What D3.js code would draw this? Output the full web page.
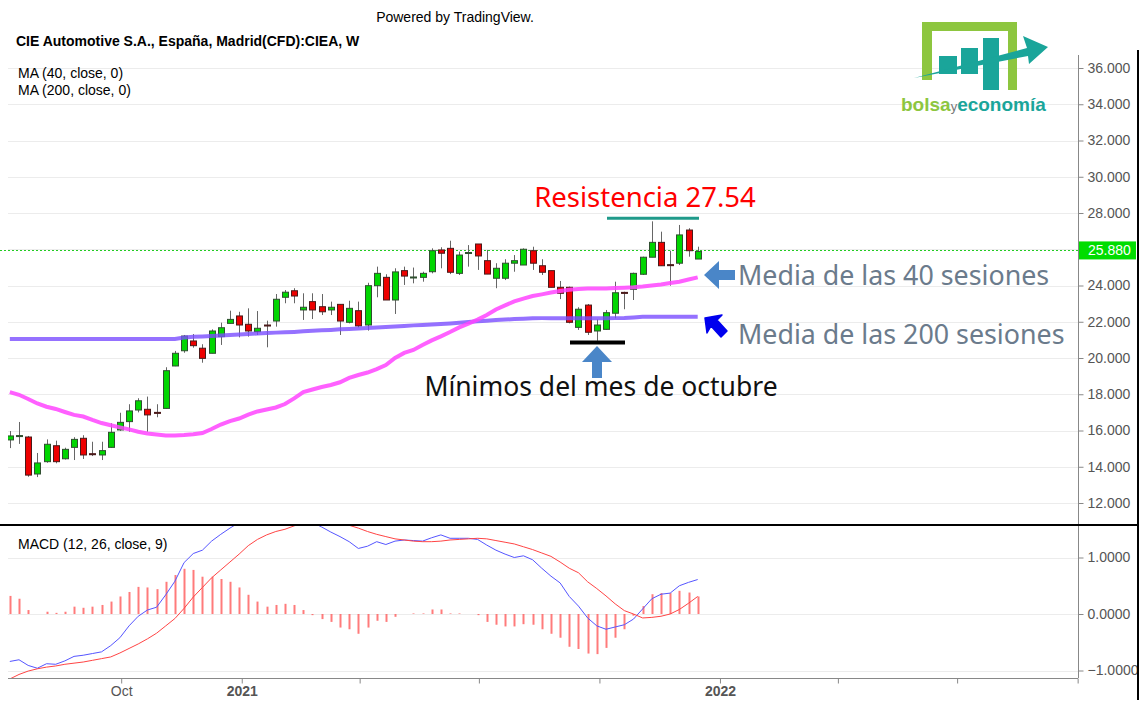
<!DOCTYPE html>
<meta charset="utf-8">
<style>
body { margin: 0; background: #fff; }
svg text { font-family: "Liberation Sans", Arial, sans-serif; }
.grid line { stroke: #ececec; stroke-width: 1; }
.axis text { fill: #555; font-size: 14px; }
.axis line { stroke: #888; }
.axis path { display: none; }
.note { font-family: "Noto Sans", "Open Sans", sans-serif; }
</style>
<body>
<svg width="1147" height="706"></svg>
<script src="https://d3js.org/d3.v7.min.js"></script>
<script>
// weekly candles, first bar week of 2020-07-08
var firstWeek = new Date(2020, 6, 8);

var opens  = [15.48,15.68,15.64,13.60,14.28,15.16,14.44,15.07,15.57,14.72,14.65,15.07,16.03,16.49,17.13,17.17,17.00,17.22,19.56,20.40,
              20.94,20.54,20.26,21.18,21.91,22.32,21.86,21.45,21.82,22.04,23.35,23.71,22.65,23.11,22.83,22.65,22.96,21.97,22.61,21.82,
              23.99,24.45,23.20,24.82,24.45,24.45,24.76,25.96,26.05,24.67,25.80,26.29,25.37,24.40,24.40,25.23,25.13,25.92,25.09,24.82,
              23.90,23.90,21.69,22.92,21.49,21.58,22.47,23.62,23.79,24.62,25.56,26.38,25.15,25.23,27.06,25.46];
var highs  = [15.97,16.47,15.70,14.76,15.51,15.44,15.05,15.63,15.74,15.38,15.38,16.40,16.98,17.45,17.78,17.87,17.45,19.49,20.39,21.27,
              21.32,20.76,21.58,21.95,22.61,22.55,22.74,22.59,22.06,23.53,23.75,23.85,23.57,23.57,23.53,23.11,22.96,23.16,23.11,24.15,
              25.04,24.62,24.95,25.04,24.99,24.76,26.05,26.11,26.47,25.87,26.23,26.29,25.96,25.23,25.45,25.68,26.05,26.14,25.45,24.82,
              24.25,23.94,22.80,22.98,22.13,22.65,24.21,23.66,24.71,25.59,27.54,26.97,25.92,27.34,27.16,26.14];
var lows   = [15.03,15.26,13.45,13.43,14.22,14.19,14.40,14.37,14.43,14.59,14.37,15.05,15.98,15.93,17.00,15.93,16.73,17.20,19.55,20.29,
              20.57,19.74,20.26,20.72,21.90,21.14,21.18,21.27,20.59,21.73,23.02,23.02,22.10,22.15,22.37,22.37,21.27,21.91,21.69,21.51,
              23.35,23.20,22.43,24.03,24.12,24.21,24.67,24.95,24.63,24.58,25.04,24.86,24.63,23.85,24.30,24.76,25.13,24.86,24.58,23.90,
              23.25,21.91,21.55,21.27,20.95,21.55,22.19,22.69,23.20,24.58,25.56,25.09,23.99,25.13,25.59,25.46];
var closes = [15.70,15.72,13.54,14.21,15.24,14.28,14.96,15.51,14.65,14.70,14.89,15.90,16.45,17.08,17.64,16.86,16.97,19.30,20.26,21.21,
              20.68,19.98,21.49,21.67,22.13,21.82,21.49,21.64,21.79,23.24,23.63,23.42,22.80,22.65,22.55,22.80,22.04,22.74,21.77,23.99,
              24.67,23.20,24.75,24.52,24.47,24.67,25.92,25.78,24.73,25.68,25.82,25.63,24.63,24.95,25.23,25.37,26.00,25.23,24.73,23.90,
              23.57,21.97,22.69,21.42,21.82,22.50,23.60,23.58,24.67,25.56,26.38,25.09,25.12,26.79,25.92,25.88];

var ma40  = [18.12,17.97,17.74,17.49,17.31,17.19,17.02,16.86,16.77,16.58,16.41,16.29,16.17,16.06,15.93,15.83,15.78,15.73,15.73,15.75,
             15.79,15.86,16.08,16.33,16.52,16.66,16.88,17.05,17.16,17.27,17.46,17.77,18.12,18.26,18.40,18.51,18.66,18.90,19.06,19.20,
             19.39,19.61,20.00,20.28,20.44,20.72,20.97,21.19,21.43,21.69,21.90,22.12,22.37,22.68,22.90,23.12,23.28,23.42,23.51,23.61,
             23.70,23.77,23.81,23.83,23.84,23.84,23.86,23.88,23.90,23.94,24.00,24.06,24.14,24.21,24.33,24.45];
var ma200 = [21.05,21.05,21.05,21.05,21.05,21.05,21.05,21.05,21.05,21.05,21.05,21.05,21.05,21.05,21.05,21.05,21.05,21.05,21.05,21.13,
             21.17,21.19,21.21,21.24,21.27,21.29,21.32,21.35,21.38,21.40,21.42,21.44,21.47,21.50,21.53,21.55,21.58,21.60,21.63,21.66,
             21.68,21.71,21.74,21.77,21.80,21.82,21.85,21.88,21.91,21.95,21.99,22.03,22.06,22.09,22.12,22.15,22.17,22.19,22.20,22.20,
             22.20,22.19,22.19,22.19,22.19,22.19,22.20,22.21,22.24,22.27,22.28,22.28,22.28,22.28,22.28,22.28];

var macdLine = [-0.84,-0.81,-0.91,-0.96,-0.88,-0.89,-0.83,-0.75,-0.73,-0.70,-0.67,-0.56,-0.42,-0.21,-0.04,0.07,0.12,0.34,0.58,0.91,
                1.07,1.13,1.29,1.41,1.52,1.62,1.72,1.80,1.86,1.90,1.90,1.84,1.74,1.62,1.54,1.45,1.37,1.28,1.16,1.20,
                1.28,1.23,1.29,1.31,1.30,1.29,1.35,1.40,1.34,1.34,1.34,1.32,1.22,1.13,1.06,1.00,1.03,0.96,0.81,0.67,
                0.55,0.31,0.14,-0.07,-0.21,-0.27,-0.23,-0.19,-0.09,0.09,0.27,0.35,0.37,0.50,0.56,0.61];
var signalLine = [-1.15,-1.07,-1.01,-0.97,-0.94,-0.92,-0.89,-0.87,-0.85,-0.82,-0.79,-0.76,-0.69,-0.61,-0.53,-0.44,-0.34,-0.21,-0.08,0.10,
                  0.30,0.47,0.64,0.78,0.92,1.06,1.21,1.32,1.40,1.46,1.50,1.56,1.62,1.64,1.64,1.62,1.60,1.57,1.52,1.46,
                  1.41,1.37,1.33,1.31,1.29,1.28,1.28,1.29,1.31,1.32,1.33,1.34,1.33,1.30,1.27,1.24,1.19,1.14,1.08,1.02,
                  0.92,0.81,0.73,0.57,0.45,0.32,0.18,0.06,0.00,-0.07,-0.06,-0.04,0.00,0.08,0.19,0.31];
var histogram = [0.32,0.27,0.07,0.00,0.04,0.02,0.04,0.13,0.11,0.13,0.16,0.22,0.31,0.39,0.48,0.47,0.44,0.57,0.69,0.80,
                 0.78,0.66,0.66,0.62,0.57,0.47,0.34,0.22,0.13,0.16,0.18,0.16,0.07,-0.02,-0.09,-0.14,-0.24,-0.27,-0.35,-0.24,
                 -0.12,-0.14,-0.05,0.00,0.01,0.01,0.08,0.08,0.01,0.01,0.00,-0.02,-0.14,-0.19,-0.22,-0.22,-0.18,-0.19,-0.27,-0.35,
                 -0.42,-0.58,-0.62,-0.70,-0.71,-0.60,-0.42,-0.27,-0.03,0.14,0.35,0.37,0.37,0.41,0.38,0.31];

var priceTicks = [12, 14, 16, 18, 20, 22, 24, 26, 28, 30, 32, 34, 36];
var macdTicks = [-1, 0, 1];
var timeTicks = ["2020-10-01", "2021-01-01", "2021-04-01", "2021-07-01", "2021-10-01",
                 "2022-01-01", "2022-04-01", "2022-07-01", "2022-10-01"];
var timeTickLabels = ["Oct", "2021", "", "", "", "2022", "", "", ""];
var lastPrice = 25.88;
var resistance = 27.54;
var octoberLow = 20.85;

var svg = d3.select("svg");
var plotLeft = 8, plotRight = 1078;
var paneSplit = 525, macdBottom = 678;

var x = d3.scaleTime()
    .domain([new Date(2020, 5, 30, 12), new Date(2022, 8, 30, 12)])
    .range([0, plotRight - 1]);
var y = d3.scaleLinear().domain([12, 36]).range([503, 68]);
var yM = d3.scaleLinear().domain([-1, 1]).range([670.5, 557.5]);

var dates = opens.map(function(d, i) { return d3.timeDay.offset(firstWeek, 7 * i); });
var bars = opens.map(function(o, i) {
    return {date: dates[i], o: o, h: highs[i], l: lows[i], c: closes[i]};
});
var parseDay = d3.timeParse("%Y-%m-%d");
var half = function(v) { return Math.round(v) + 0.5; };

var defs = svg.append("defs");
defs.append("clipPath").attr("id", "clipPrice").append("rect")
    .attr("x", plotLeft).attr("y", 0).attr("width", plotRight - plotLeft).attr("height", paneSplit);
defs.append("clipPath").attr("id", "clipMacd").append("rect")
    .attr("x", plotLeft).attr("y", paneSplit + 1).attr("width", plotRight - plotLeft).attr("height", macdBottom - paneSplit - 1);
defs.append("clipPath").attr("id", "clipMacdAxis").append("rect")
    .attr("x", 0).attr("y", paneSplit + 1).attr("width", 70).attr("height", macdBottom - paneSplit - 1);

// header texts
svg.append("text").attr("x", 455).attr("y", 22).attr("text-anchor", "middle")
    .style("font-size", "14px").text("Powered by TradingView.");
svg.append("text").attr("x", 16).attr("y", 46)
    .style("font-size", "14px").style("font-weight", "bold").text("CIE Automotive S.A., España, Madrid(CFD):CIEA, W");

// grids
svg.append("g").attr("class", "grid").selectAll("line").data(priceTicks).enter().append("line")
    .attr("x1", plotLeft).attr("x2", plotRight)
    .attr("y1", function(d) { return half(y(d)); })
    .attr("y2", function(d) { return half(y(d)); });
svg.append("g").attr("class", "grid").selectAll("line").data(macdTicks).enter().append("line")
    .attr("x1", plotLeft).attr("x2", plotRight)
    .attr("y1", function(d) { return half(yM(d)); })
    .attr("y2", function(d) { return half(yM(d)); });

svg.append("text").attr("x", 18).attr("y", 78).style("font-size", "14px").text("MA (40, close, 0)");
svg.append("text").attr("x", 18).attr("y", 95).style("font-size", "14px").text("MA (200, close, 0)");

// last price dotted line
svg.append("line")
    .attr("x1", 0).attr("x2", plotRight)
    .attr("y1", half(y(lastPrice)) - 1).attr("y2", half(y(lastPrice)) - 1)
    .attr("stroke", "#22cc22").attr("stroke-dasharray", "2,2");

// candles
var priceG = svg.append("g").attr("clip-path", "url(#clipPrice)");
var candle = priceG.append("g").selectAll("g").data(bars).enter().append("g");
candle.append("line")
    .attr("x1", function(d) { return half(x(d.date)); })
    .attr("x2", function(d) { return half(x(d.date)); })
    .attr("y1", function(d) { return y(d.h); })
    .attr("y2", function(d) { return y(d.l); })
    .attr("stroke", "#666");
candle.append("rect")
    .attr("x", function(d) { return Math.round(x(d.date)) - 2.5; })
    .attr("width", 6)
    .attr("y", function(d) { return y(Math.max(d.o, d.c)); })
    .attr("height", function(d) { return Math.max(1, Math.abs(y(d.o) - y(d.c))); })
    .attr("fill", function(d) {
        if (Math.abs(d.o - d.c) < 0.06) return d.c >= d.o ? "#1b5e20" : "#7a1010";
        return d.c >= d.o ? "#00d600" : "#ee0000";
    })
    .attr("stroke", function(d) { return d.c >= d.o ? "#2f4f2f" : "#4a1a1a"; })
    .attr("stroke-width", 1);

// moving averages
var maLine = function(arr) {
    return d3.line()
        .x(function(d, i) { return x(dates[i]); })
        .y(function(d) { return y(d); })(arr);
};
priceG.append("path").attr("d", maLine(ma200))
    .attr("fill", "none").attr("stroke", "#7a4dff").attr("stroke-width", 4).attr("opacity", 0.8);
priceG.append("path").attr("d", maLine(ma40))
    .attr("fill", "none").attr("stroke", "#ff44ff").attr("stroke-width", 4).attr("opacity", 0.85);

// annotations
priceG.append("line")
    .attr("x1", 607).attr("x2", 699).attr("y1", y(resistance) - 3).attr("y2", y(resistance) - 3)
    .attr("stroke", "#1f9a8a").attr("stroke-width", 3);
priceG.append("line")
    .attr("x1", 570).attr("x2", 625).attr("y1", y(octoberLow)).attr("y2", y(octoberLow))
    .attr("stroke", "#000").attr("stroke-width", 4);

svg.append("text").attr("class", "note").attr("x", 645).attr("y", 207).attr("text-anchor", "middle")
    .style("font-size", "27.5px").attr("fill", "#ff0000").text("Resistencia " + resistance.toFixed(2));
svg.append("text").attr("class", "note").attr("x", 601).attr("y", 396).attr("text-anchor", "middle")
    .style("font-size", "26.5px").attr("fill", "#111").text("Mínimos del mes de octubre");
svg.append("text").attr("class", "note").attr("x", 738).attr("y", 285)
    .style("font-size", "26.8px").attr("fill", "#6b7b8c").text("Media de las 40 sesiones");
svg.append("text").attr("class", "note").attr("x", 738).attr("y", 344)
    .style("font-size", "26.8px").attr("fill", "#6b7b8c").text("Media de las 200 sesiones");

// arrows
svg.append("path")
    .attr("d", "M704,275 L719,261 L719,270 L735,270 L735,280 L719,280 L719,289 Z")
    .attr("fill", "#4a86c8");
svg.append("path")
    .attr("d", "M597,346 L582,362 L592,362 L592,378 L602,378 L602,362 L612,362 Z")
    .attr("fill", "#4a86c8");
svg.append("path")
    .attr("d", "M705,318 L722,315 L717,320 L727,331 L721,337 L711,326 L707,333 Z")
    .attr("fill", "#0000ee").attr("stroke", "#0000ee").attr("stroke-width", 1.5).attr("stroke-linejoin", "round");

// MACD pane
svg.append("text").attr("x", 18).attr("y", 549).style("font-size", "14px").text("MACD (12, 26, close, 9)");
var macdG = svg.append("g").attr("clip-path", "url(#clipMacd)");
macdG.append("g").selectAll("line").data(histogram).enter().append("line")
    .attr("x1", function(d, i) { return half(x(dates[i])); })
    .attr("x2", function(d, i) { return half(x(dates[i])); })
    .attr("y1", yM(0))
    .attr("y2", function(d) { return yM(d); })
    .attr("stroke", "#ff5050").attr("stroke-width", 2).attr("opacity", 0.75);
var mLine = d3.line()
    .x(function(d, i) { return x(dates[i]); })
    .y(function(d) { return yM(d); });
macdG.append("path").attr("d", mLine(macdLine))
    .attr("fill", "none").attr("stroke", "#5555ff").attr("stroke-width", 1);
macdG.append("path").attr("d", mLine(signalLine))
    .attr("fill", "none").attr("stroke", "#ff4444").attr("stroke-width", 1);

// axes
svg.append("line").attr("x1", plotRight + 0.5).attr("x2", plotRight + 0.5).attr("y1", 55).attr("y2", macdBottom)
    .attr("stroke", "#888");
svg.append("line").attr("x1", plotLeft).attr("x2", plotRight).attr("y1", macdBottom + 0.5).attr("y2", macdBottom + 0.5)
    .attr("stroke", "#888");

var yAxis = svg.append("g").attr("class", "axis")
    .attr("transform", "translate(" + (plotRight + 0.5) + ",0)")
    .call(d3.axisRight(y).tickValues(priceTicks).tickSize(5).tickPadding(4).tickFormat(d3.format(".3f")));
// the last-price box covers the nearest tick label
yAxis.selectAll(".tick text").filter(function(d) { return Math.abs(d - lastPrice) < 0.6; }).remove();
svg.append("g").attr("class", "axis").attr("clip-path", "url(#clipMacdAxis)")
    .attr("transform", "translate(" + (plotRight + 0.5) + ",0)")
    .call(d3.axisRight(yM).tickValues(macdTicks).tickSize(5).tickPadding(4).tickFormat(d3.format(".4f")));

var xAxis = svg.append("g").attr("class", "axis")
    .attr("transform", "translate(0," + (macdBottom + 0.5) + ")")
    .call(d3.axisBottom(x).tickValues(timeTicks.map(parseDay)).tickSize(5).tickPadding(3)
        .tickFormat(function(d, i) { return timeTickLabels[i]; }));
xAxis.selectAll("text")
    .style("font-size", "14px")
    .style("font-weight", function(d, i) { return /^\d+$/.test(timeTickLabels[i]) ? "bold" : "normal"; });

// last price label
var lp = svg.append("g").attr("transform", "translate(" + (plotRight + 1) + "," + (y(lastPrice) - 1) + ")");
lp.append("rect").attr("x", 0).attr("y", -9).attr("width", 57).attr("height", 18).attr("fill", "#00dd00");
lp.append("text").attr("x", 9).attr("y", 5).attr("fill", "#fff").style("font-size", "14px").text(lastPrice.toFixed(3));

// frame lines
svg.append("line").attr("x1", 0).attr("x2", 1139).attr("y1", paneSplit).attr("y2", paneSplit)
    .attr("stroke", "#000").attr("stroke-width", 2);
svg.append("line").attr("x1", 1138).attr("x2", 1138).attr("y1", 50).attr("y2", 700)
    .attr("stroke", "#000").attr("stroke-width", 2);

// logo
var logo = svg.append("g");
logo.append("path")
    .attr("d", "M922,22 H1017 V90 H1008 V31 H932 V80 H922 Z")
    .attr("fill", "#8dc63f");
logo.append("rect").attr("x", 939).attr("y", 56).attr("width", 18).attr("height", 18).attr("fill", "#1aa59a");
logo.append("rect").attr("x", 961).attr("y", 48).attr("width", 17).attr("height", 26).attr("fill", "#1aa59a");
logo.append("rect").attr("x", 983).attr("y", 38).attr("width", 16).attr("height", 52).attr("fill", "#1aa59a");
logo.append("path")
    .attr("d", "M914,78 L1027,48 L1023,36 L1048,47 L1029,64 L1028,56 Z")
    .attr("fill", "#1aa59a");
var lt = logo.append("text").attr("x", 901).attr("y", 111).style("font-size", "19px").style("font-weight", "bold");
lt.append("tspan").attr("fill", "#8dc63f").text("bolsa");
lt.append("tspan").attr("fill", "#777").style("font-size", "13px").style("font-weight", "normal").text("y");
lt.append("tspan").attr("fill", "#1aa59a").text("economía");
</script>
</body>
